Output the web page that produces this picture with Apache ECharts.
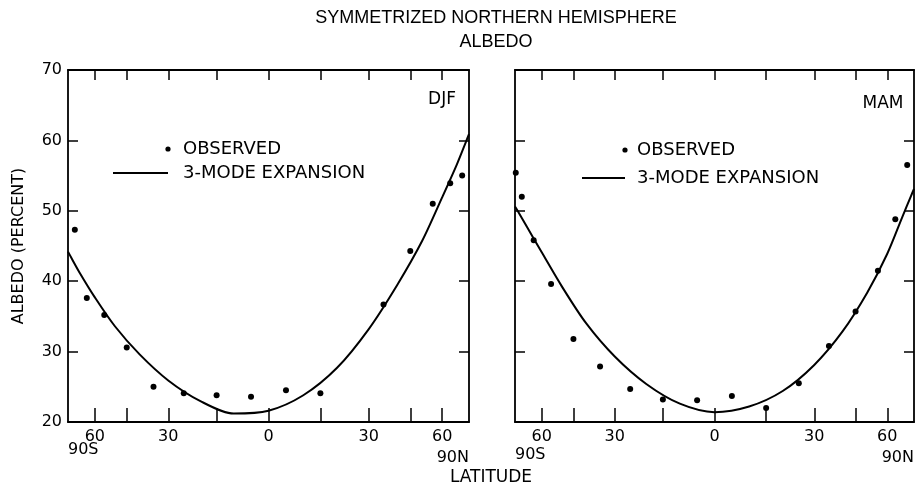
<!DOCTYPE html>
<html><head><meta charset="utf-8">
<script src="https://cdn.jsdelivr.net/npm/echarts@6/dist/echarts.min.js"></script>
<style>html,body{margin:0;padding:0;background:#fff}#c{width:915px;height:484px}</style>
</head><body><div id="c"></div>
<script>
// ---- data (latitude in degrees, albedo in percent) ----
const tickLats = [-60, -45, -30, -15, 0, 15, 30, 45, 60];
const labelLats = [-60, -30, 0, 30, 60];
const poleLats = [-90, 90];
const yMin = 20, yMax = 70, yStep = 10;

const djfObsLat = [-75, -65, -55, -45, -35, -25, -15, -5, 5, 15, 35, 45, 55, 65, 75];
const djfObsVal = [47.3, 37.6, 35.2, 30.6, 25.0, 24.1, 23.8, 23.6, 24.5, 24.1, 36.7, 44.3, 51.0, 53.9, 55.0];
const djfFitLat = [-90, -80, -70, -60, -50, -40, -30, -20, -10, 0, 10, 20, 30, 40, 50, 60, 70, 80, 90];
const djfFitVal = [44.2, 43.4, 41.1, 37.7, 33.6, 29.6, 25.9, 23.0, 21.2, 21.6, 23.8, 27.7, 33.2, 39.5, 45.7, 51.9, 56.6, 59.8, 60.9];

const mamObsLat = [-85, -75, -65, -55, -45, -35, -25, -15, -5, 5, 15, 25, 35, 45, 55, 65, 75];
const mamObsVal = [55.4, 52.0, 45.8, 39.6, 31.8, 27.9, 24.7, 23.2, 23.1, 23.7, 22.0, 25.5, 30.8, 35.7, 41.5, 48.8, 56.5];
const mamFitLat = [-90, -80, -70, -60, -50, -40, -30, -20, -10, 0, 10, 20, 30, 40, 50, 60, 70, 80, 90];
const mamFitVal = [50.6, 49.9, 47.7, 44.1, 39.3, 34.0, 29.3, 25.4, 22.6, 21.4, 22.2, 24.4, 28.1, 32.9, 38.4, 43.9, 49.0, 52.1, 53.1];

// ---- area-weighted latitude axis: position = sin(latitude) ----
const toAxis = lat => Math.sin(lat * Math.PI / 180);
const fromAxis = v => Math.round(Math.asin(Math.max(-1, Math.min(1, v))) * 180 / Math.PI);
const pairs = (lats, vals) => lats.map((l, i) => [toAxis(l), vals[i]]);

const FONT = 'DejaVu Sans';
const BLACK = '#000';
const frame = { show: true, onZero: false, lineStyle: { color: BLACK, width: 1.8 } };

function xAxes(grid, sH, nH) {
  return [
    { type: 'value', gridIndex: grid, position: 'bottom', min: -1, max: 1,
      axisLine: frame, splitLine: { show: false },
      axisTick: { show: true, inside: true, length: 14, lineStyle: { color: BLACK, width: 1.5 },
                  customValues: tickLats.map(toAxis) },
      axisLabel: { show: true, customValues: labelLats.map(toAxis),
                   formatter: v => String(Math.abs(fromAxis(v))),
                   margin: 7, fontSize: 16, lineHeight: 16, fontFamily: FONT, color: BLACK } },
    { type: 'value', gridIndex: grid, position: 'top', min: -1, max: 1,
      axisLine: frame, splitLine: { show: false },
      axisTick: { show: true, inside: true, length: 10, lineStyle: { color: BLACK, width: 1.5 },
                  customValues: tickLats.map(toAxis) },
      axisLabel: { show: false } },
    { type: 'value', gridIndex: grid, position: 'bottom', min: -1, max: 1,
      axisLine: { show: false, onZero: false }, axisTick: { show: false }, splitLine: { show: false },
      axisLabel: { show: true, customValues: poleLats.map(toAxis),
                   formatter: v => fromAxis(v) < 0 ? '{s|90S}' : '{n|90N}',
                   showMinLabel: true, showMaxLabel: true,
                   alignMinLabel: 'left', alignMaxLabel: 'right',
                   margin: 7, fontSize: 16, fontFamily: FONT, color: BLACK,
                   rich: { s: { fontSize: 16, fontFamily: FONT, color: BLACK, lineHeight: sH },
                           n: { fontSize: 16, fontFamily: FONT, color: BLACK, lineHeight: nH } } } }
  ];
}

function yAxes(grid, withLabels) {
  return [
    { type: 'value', gridIndex: grid, position: 'left', min: yMin, max: yMax, interval: yStep,
      axisLine: frame, splitLine: { show: false },
      axisTick: { show: true, inside: true, length: 10, lineStyle: { color: BLACK, width: 1.5 } },
      axisLabel: { show: withLabels, margin: 6, fontSize: 16, fontFamily: FONT, color: BLACK },
      name: withLabels ? 'ALBEDO (PERCENT)' : '', nameLocation: 'middle', nameGap: 41, nameRotate: 90,
      nameTextStyle: { fontSize: 16, fontFamily: FONT, color: BLACK } },
    { type: 'value', gridIndex: grid, position: 'right', min: yMin, max: yMax, interval: yStep,
      axisLine: frame, splitLine: { show: false },
      axisTick: { show: true, inside: true, length: 10, lineStyle: { color: BLACK, width: 1.5 } },
      axisLabel: { show: false } }
  ];
}

function legendFor(legendLeft, top, gap, lineLen, boxW) {
  const dot = 'path://M0,0 L0,0 M' + boxW + ',14 L' + boxW + ',14 M' + (lineLen - 2.6) + ',7 a2.6,2.6 0 1,0 5.2,0 a2.6,2.6 0 1,0 -5.2,0';
  const line = 'path://M0,0 L0,0 M' + boxW + ',14 L' + boxW + ',14 M0,6.1 L' + lineLen + ',6.1 L' + lineLen + ',7.9 L0,7.9 Z';
  return {
    orient: 'vertical', left: legendLeft, top: top, itemGap: gap,
    itemWidth: boxW, itemHeight: 14, symbolKeepAspect: false, padding: 0,
    textStyle: { fontSize: 18, lineHeight: 14, fontFamily: FONT, color: BLACK },
    data: [
      { name: 'OBSERVED', icon: dot, itemStyle: { color: BLACK, borderWidth: 0 } },
      { name: '3-MODE EXPANSION', icon: line, itemStyle: { color: BLACK, borderWidth: 0 } }
    ]
  };
}

const chart = echarts.init(document.getElementById('c'), null, { renderer: 'canvas' });
chart.setOption({
  backgroundColor: '#fff',
  animation: false,
  title: [
    { text: 'SYMMETRIZED NORTHERN HEMISPHERE\nALBEDO', left: 491, top: 1, textAlign: 'center',
      textStyle: { fontSize: 18, fontWeight: 'normal', lineHeight: 24, fontFamily: 'Liberation Sans', color: BLACK } },
    { text: 'LATITUDE', left: 486, top: 464, textAlign: 'center',
      textStyle: { fontSize: 17, fontWeight: 'normal', fontFamily: FONT, color: BLACK } },
    { text: 'DJF', left: 437, top: 86, textAlign: 'center',
      textStyle: { fontSize: 17, fontWeight: 'normal', fontFamily: FONT, color: BLACK } },
    { text: 'MAM', left: 878, top: 90, textAlign: 'center',
      textStyle: { fontSize: 17, fontWeight: 'normal', fontFamily: FONT, color: BLACK } }
  ],
  legend: [ legendFor(113, 140, 6, 55, 65), legendFor(582, 141, 10, 43, 50) ],
  grid: [
    { left: 68, top: 70, width: 401, height: 352, outerBoundsMode: 'none', containLabel: false },
    { left: 515, top: 70, width: 399, height: 352, outerBoundsMode: 'none', containLabel: false }
  ],
  xAxis: [ ...xAxes(0, 42, 58), ...xAxes(1, 52, 58) ],
  yAxis: [ ...yAxes(0, true), ...yAxes(1, false) ],
  series: [
    { name: 'OBSERVED', type: 'scatter', xAxisIndex: 0, yAxisIndex: 0, symbolSize: 6,
      itemStyle: { color: BLACK, opacity: 1 }, data: pairs(djfObsLat, djfObsVal) },
    { name: '3-MODE EXPANSION', type: 'line', xAxisIndex: 0, yAxisIndex: 0, smooth: 0.3, showSymbol: false,
      lineStyle: { color: BLACK, width: 2 }, itemStyle: { color: BLACK }, data: pairs(djfFitLat, djfFitVal) },
    { name: 'OBSERVED', type: 'scatter', xAxisIndex: 3, yAxisIndex: 2, symbolSize: 6,
      itemStyle: { color: BLACK, opacity: 1 }, data: pairs(mamObsLat, mamObsVal) },
    { name: '3-MODE EXPANSION', type: 'line', xAxisIndex: 3, yAxisIndex: 2, smooth: 0.3, showSymbol: false,
      lineStyle: { color: BLACK, width: 2 }, itemStyle: { color: BLACK }, data: pairs(mamFitLat, mamFitVal) }
  ]
});
</script></body></html>
